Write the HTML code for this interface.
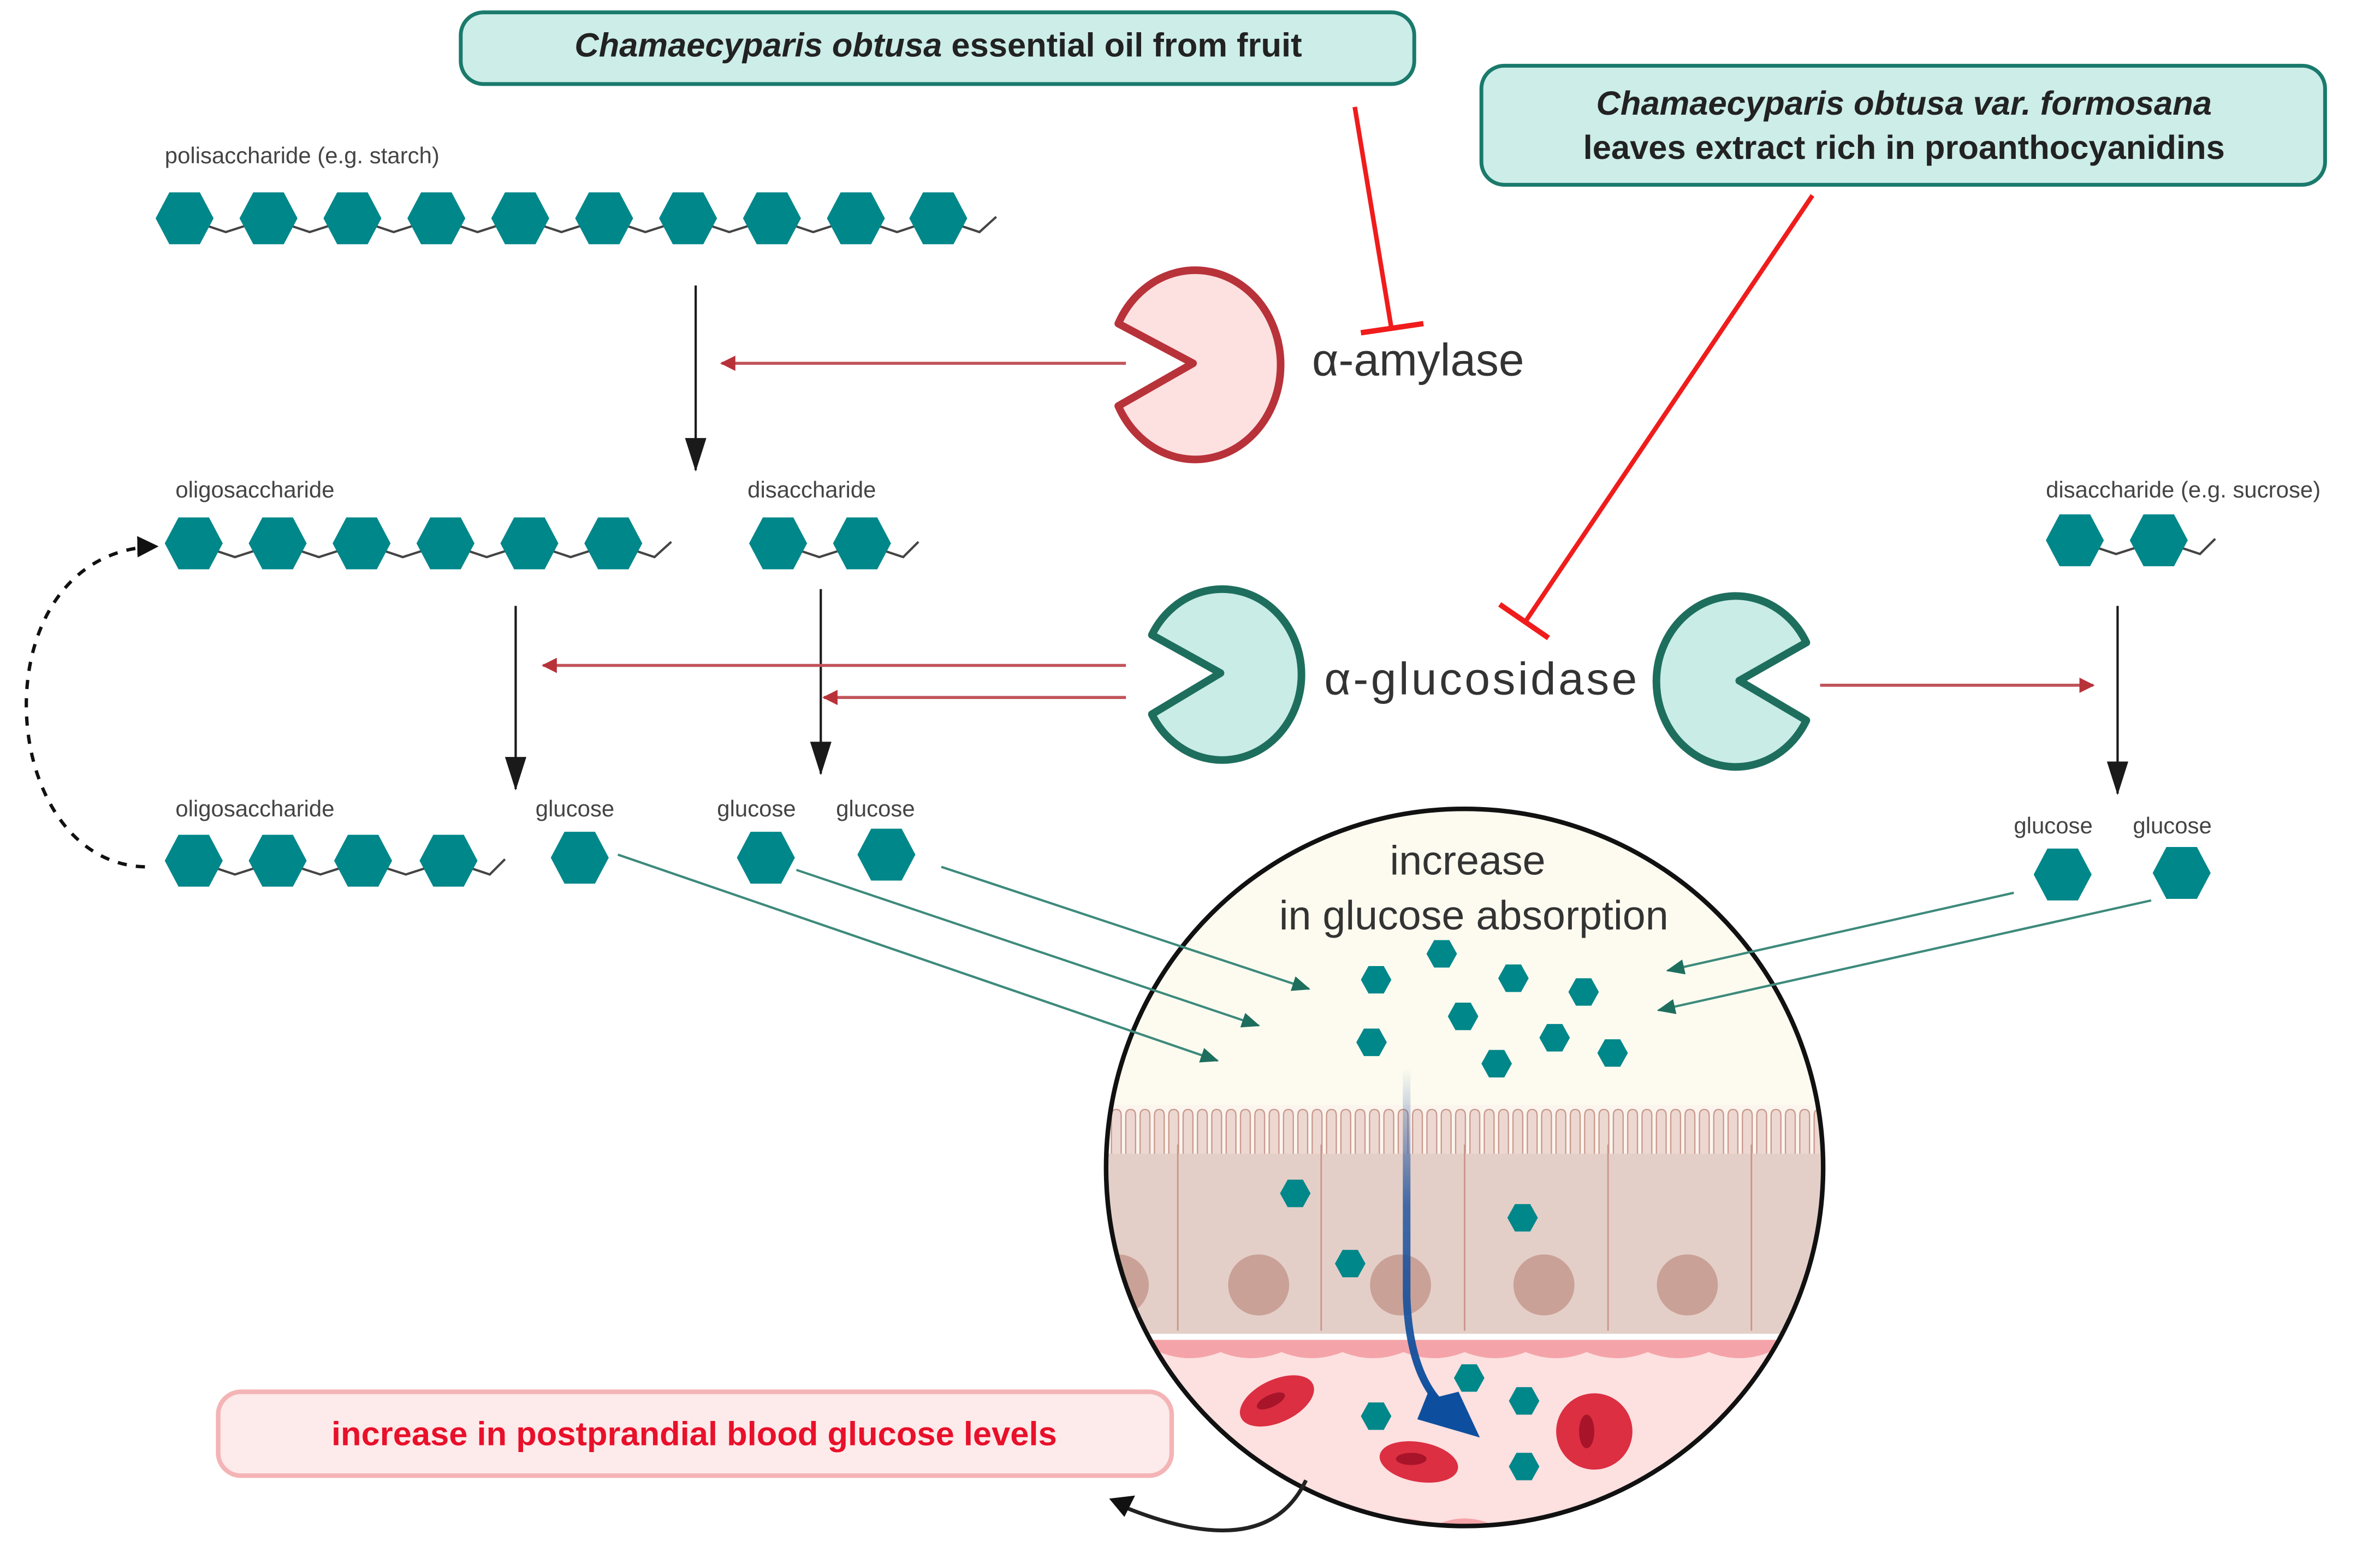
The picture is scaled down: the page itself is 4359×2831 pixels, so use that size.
<!DOCTYPE html>
<html><head><meta charset="utf-8">
<style>
html,body{margin:0;padding:0;background:#fff;}
svg{display:block;}
text{font-family:"Liberation Sans",sans-serif;}
.lbl{font-family:"Liberation Sans Narrow","Liberation Sans",sans-serif;font-size:15px;fill:#444;}
</style></head>
<body>
<svg width="4359" height="2831" viewBox="0 0 1560 1013" xmlns="http://www.w3.org/2000/svg">
<defs>
  <polygon id="hx" points="-19,0 -10,-17 10,-17 19,0 10,17 -10,17" fill="#00878a"/>
  <polygon id="hs" points="-10,0 -5,-9 5,-9 10,0 5,9 -5,9" fill="#00878a"/>
  <marker id="ab" markerWidth="10" markerHeight="10" refX="9" refY="5" orient="auto" markerUnits="userSpaceOnUse"><path d="M0,0 L10,5 L0,10 Z" fill="#b8323a"/></marker>
  <marker id="ak" markerWidth="22" markerHeight="14" refX="21" refY="7" orient="auto" markerUnits="userSpaceOnUse"><path d="M0,0 L22,7 L0,14 Z" fill="#1a1a1a"/></marker>
  <marker id="at" markerWidth="12" markerHeight="10" refX="11" refY="5" orient="auto" markerUnits="userSpaceOnUse"><path d="M0,0 L12,5 L0,10 Z" fill="#1e6e5e"/></marker>
  <marker id="ad" markerWidth="14" markerHeight="14" refX="13" refY="7" orient="auto" markerUnits="userSpaceOnUse"><path d="M0,0 L14,7 L0,14 Z" fill="#111"/></marker>
  <linearGradient id="bg" x1="0" y1="0" x2="0" y2="1">
    <stop offset="0" stop-color="#1a4f9c" stop-opacity="0"/>
    <stop offset="0.4" stop-color="#1a4f9c" stop-opacity="0.8"/>
    <stop offset="1" stop-color="#0d4f9e"/>
  </linearGradient>
  <pattern id="mv" x="727" y="0" width="9.4" height="1013" patternUnits="userSpaceOnUse">
    <rect x="0" y="0" width="9.4" height="1013" fill="#fbf5ee"/>
    <path d="M1.5,760 L1.5,731 Q1.5,727 4.7,727 Q7.9,727 7.9,731 L7.9,760 Z" fill="#ecd8d0" stroke="#c9958a" stroke-width="0.8"/>
  </pattern>
  <clipPath id="cc"><circle cx="960" cy="765" r="235"/></clipPath>
</defs>

<rect x="302" y="8" width="625" height="47" rx="15" fill="#ccede8" stroke="#1a7a6c" stroke-width="2.5"/>
<text x="615" y="37" text-anchor="middle" font-size="22" font-weight="bold" fill="#222"><tspan font-style="italic">Chamaecyparis obtusa</tspan> essential oil from fruit</text>

<rect x="971" y="43" width="553" height="78" rx="15" fill="#ccede8" stroke="#1a7a6c" stroke-width="2.5"/>
<text x="1248" y="75" text-anchor="middle" font-size="22" font-weight="bold" font-style="italic" fill="#222">Chamaecyparis obtusa var. formosana</text>
<text x="1248" y="104" text-anchor="middle" font-size="22" font-weight="bold" fill="#222">leaves extract rich in proanthocyanidins</text>

<text class="lbl" x="108" y="107">polisaccharide (e.g. starch)</text>
<polyline points="121,143 148,152 176,143 203,152 231,143 258,152 286,143 313,152 341,143 368,152 396,143 423,152 451,143 478,152 506,143 533,152 561,143 588,152 615,143 642,152 653,142" fill="none" stroke="#444" stroke-width="1.5"/>
<use href="#hx" x="121" y="143"/><use href="#hx" x="176" y="143"/><use href="#hx" x="231" y="143"/><use href="#hx" x="286" y="143"/><use href="#hx" x="341" y="143"/><use href="#hx" x="396" y="143"/><use href="#hx" x="451" y="143"/><use href="#hx" x="506" y="143"/><use href="#hx" x="561" y="143"/><use href="#hx" x="615" y="143"/>

<text class="lbl" x="115" y="326">oligosaccharide</text>
<polyline points="127,356 154,365 182,356 209,365 237,356 264,365 292,356 319,365 347,356 374,365 402,356 429,365 440,355" fill="none" stroke="#444" stroke-width="1.5"/>
<use href="#hx" x="127" y="356"/><use href="#hx" x="182" y="356"/><use href="#hx" x="237" y="356"/><use href="#hx" x="292" y="356"/><use href="#hx" x="347" y="356"/><use href="#hx" x="402" y="356"/>

<text class="lbl" x="490" y="326">disaccharide</text>
<polyline points="510,356 537,365 565,356 592,365 602,355" fill="none" stroke="#444" stroke-width="1.5"/>
<use href="#hx" x="510" y="356"/><use href="#hx" x="565" y="356"/>

<text class="lbl" x="1341" y="326">disaccharide (e.g. sucrose)</text>
<polyline points="1360,354 1387,363 1415,354 1442,363 1452,353" fill="none" stroke="#444" stroke-width="1.5"/>
<use href="#hx" x="1360" y="354"/><use href="#hx" x="1415" y="354"/>

<text class="lbl" x="115" y="535">oligosaccharide</text>
<polyline points="127,564 154,573 182,564 210,573 238,564 266,573 294,564 321,573 331,563" fill="none" stroke="#444" stroke-width="1.5"/>
<use href="#hx" x="127" y="564"/><use href="#hx" x="182" y="564"/><use href="#hx" x="238" y="564"/><use href="#hx" x="294" y="564"/>
<text class="lbl" x="351" y="535">glucose</text>
<text class="lbl" x="470" y="535">glucose</text>
<text class="lbl" x="548" y="535">glucose</text>
<use href="#hx" x="380" y="562"/><use href="#hx" x="502" y="562"/><use href="#hx" x="581" y="560"/>
<text class="lbl" x="1320" y="546">glucose</text>
<text class="lbl" x="1398" y="546">glucose</text>
<use href="#hx" x="1352" y="573"/><use href="#hx" x="1430" y="572"/>

<path d="M95,568 C-5,565 -15,360 103,358" fill="none" stroke="#111" stroke-width="2.2" stroke-dasharray="6,6" marker-end="url(#ad)"/>

<line x1="456" y1="187" x2="456" y2="308" stroke="#1a1a1a" stroke-width="1.5" marker-end="url(#ak)"/>
<line x1="338" y1="397" x2="338" y2="517" stroke="#1a1a1a" stroke-width="1.5" marker-end="url(#ak)"/>
<line x1="538" y1="386" x2="538" y2="507" stroke="#1a1a1a" stroke-width="1.5" marker-end="url(#ak)"/>
<line x1="1388" y1="397" x2="1388" y2="520" stroke="#1a1a1a" stroke-width="1.5" marker-end="url(#ak)"/>

<line x1="738" y1="238" x2="473" y2="238" stroke="#c0545a" stroke-width="2" marker-end="url(#ab)"/>
<line x1="738" y1="436" x2="356" y2="436" stroke="#c0545a" stroke-width="2" marker-end="url(#ab)"/>
<line x1="738" y1="457" x2="540" y2="457" stroke="#c0545a" stroke-width="2" marker-end="url(#ab)"/>
<line x1="1193" y1="449" x2="1372" y2="449" stroke="#c0545a" stroke-width="2" marker-end="url(#ab)"/>

<line x1="888" y1="70" x2="912" y2="215" stroke="#f01c1c" stroke-width="3"/>
<line x1="892" y1="218" x2="933" y2="212" stroke="#f01c1c" stroke-width="3.5"/>
<line x1="1188" y1="128" x2="1000" y2="407" stroke="#f01c1c" stroke-width="3"/>
<line x1="983" y1="396" x2="1015" y2="418" stroke="#f01c1c" stroke-width="3.5"/>

<path d="M782,238 L733,212 A56,62 0 1 1 733,266 Z" fill="#fde0e0" stroke="#b8323a" stroke-width="5" stroke-linejoin="round"/>
<text x="860" y="246" font-size="30" fill="#333">α-amylase</text>
<path d="M800,441 L755,416 A52,56 0 1 1 755,468 Z" fill="#c9ece6" stroke="#1e6e5e" stroke-width="5" stroke-linejoin="round"/>
<text x="868" y="455" font-size="30" fill="#333" textLength="205">α-glucosidase</text>
<path d="M1140,446 L1184,421 A52,56 0 1 0 1184,472 Z" fill="#c9ece6" stroke="#1e6e5e" stroke-width="5" stroke-linejoin="round"/>

<g clip-path="url(#cc)">
  <rect x="720" y="525" width="480" height="485" fill="#fdfbf0"/>
  <rect x="720" y="724" width="480" height="40" fill="url(#mv)"/>
  <rect x="720" y="756" width="480" height="120" fill="#e4cfc8"/>
  <g stroke="#c9958a" stroke-width="1" fill="none">
    <line x1="772" y1="750" x2="772" y2="872"/><line x1="866" y1="750" x2="866" y2="872"/><line x1="960" y1="750" x2="960" y2="872"/><line x1="1054" y1="750" x2="1054" y2="872"/><line x1="1148" y1="750" x2="1148" y2="872"/>
  </g>
  <g fill="#c9a197"><circle cx="733" cy="842" r="20"/><circle cx="825" cy="842" r="20"/><circle cx="918" cy="842" r="20"/><circle cx="1012" cy="842" r="20"/><circle cx="1106" cy="842" r="20"/></g>
  <rect x="720" y="874" width="480" height="4" fill="#fff"/>
  <rect x="720" y="878" width="480" height="140" fill="#fde0e0"/>
  <path d="M720,878 L1200,878 L1200,886 Q1180,894 1160,886 Q1140,894 1120,886 Q1100,894 1080,886 Q1060,894 1040,886 Q1020,894 1000,886 Q980,894 960,886 Q940,894 920,886 Q900,894 880,886 Q860,894 840,886 Q820,894 800,886 Q780,894 760,886 Q740,894 720,886 Z" fill="#f4a4a8"/>
  <path d="M900,1000 Q920,990 940,1000 Q960,990 980,1000 L980,1010 L900,1010Z" fill="#f4a4a8"/>
  <g fill="#dc2f42">
    <ellipse cx="837" cy="918" rx="26" ry="14" transform="rotate(-25 837 918)"/>
    <ellipse cx="930" cy="958" rx="26" ry="13" transform="rotate(10 930 958)"/>
    <circle cx="1045" cy="938" r="25"/>
  </g>
  <g fill="#a8142a"><ellipse cx="833" cy="918" rx="10" ry="4" transform="rotate(-25 833 918)"/><ellipse cx="925" cy="956" rx="10" ry="4"/><ellipse cx="1040" cy="938" rx="5" ry="11"/></g>
  <use href="#hs" x="902" y="642"/><use href="#hs" x="945" y="625"/><use href="#hs" x="992" y="641"/><use href="#hs" x="1038" y="650"/><use href="#hs" x="959" y="666"/><use href="#hs" x="899" y="683"/><use href="#hs" x="1019" y="680"/><use href="#hs" x="981" y="697"/><use href="#hs" x="1057" y="690"/>
  <use href="#hs" x="849" y="782"/><use href="#hs" x="885" y="828"/><use href="#hs" x="998" y="798"/>
  <use href="#hs" x="963" y="903"/><use href="#hs" x="999" y="918"/><use href="#hs" x="902" y="928"/><use href="#hs" x="999" y="961"/>
  <path d="M922,700 L922,850 Q924,905 950,925" fill="none" stroke="url(#bg)" stroke-width="5"/>
  <path d="M940,916 L970,942 L956,912 Z" fill="#0d4f9e"/>
  <path d="M937,910 L970,942 L929,930 Z" fill="#0d4f9e"/>
</g>
<circle cx="960" cy="765" r="235" fill="none" stroke="#111" stroke-width="3"/>
<text x="962" y="573" text-anchor="middle" font-size="27" fill="#333">increase</text>
<text x="966" y="609" text-anchor="middle" font-size="27" fill="#333">in glucose absorption</text>

<g stroke="#3d8a7c" stroke-width="1.5" marker-end="url(#at)">
<line x1="405" y1="560" x2="798" y2="695"/>
<line x1="522" y1="570" x2="825" y2="672"/>
<line x1="617" y1="568" x2="858" y2="648"/>
<line x1="1320" y1="585" x2="1093" y2="636"/>
<line x1="1410" y1="590" x2="1087" y2="662"/>
</g>

<rect x="143" y="912" width="625" height="55" rx="15" fill="#fdeaea" stroke="#f4b4b6" stroke-width="3"/>
<text x="455" y="947" text-anchor="middle" font-size="22" font-weight="bold" fill="#e8102a">increase in postprandial blood glucose levels</text>

<path d="M856,970 Q830,1025 738,988" fill="none" stroke="#222" stroke-width="2.5"/>
<path d="M727,982 L744,980 L737,994 Z" fill="#111"/>
</svg>
</body></html>
